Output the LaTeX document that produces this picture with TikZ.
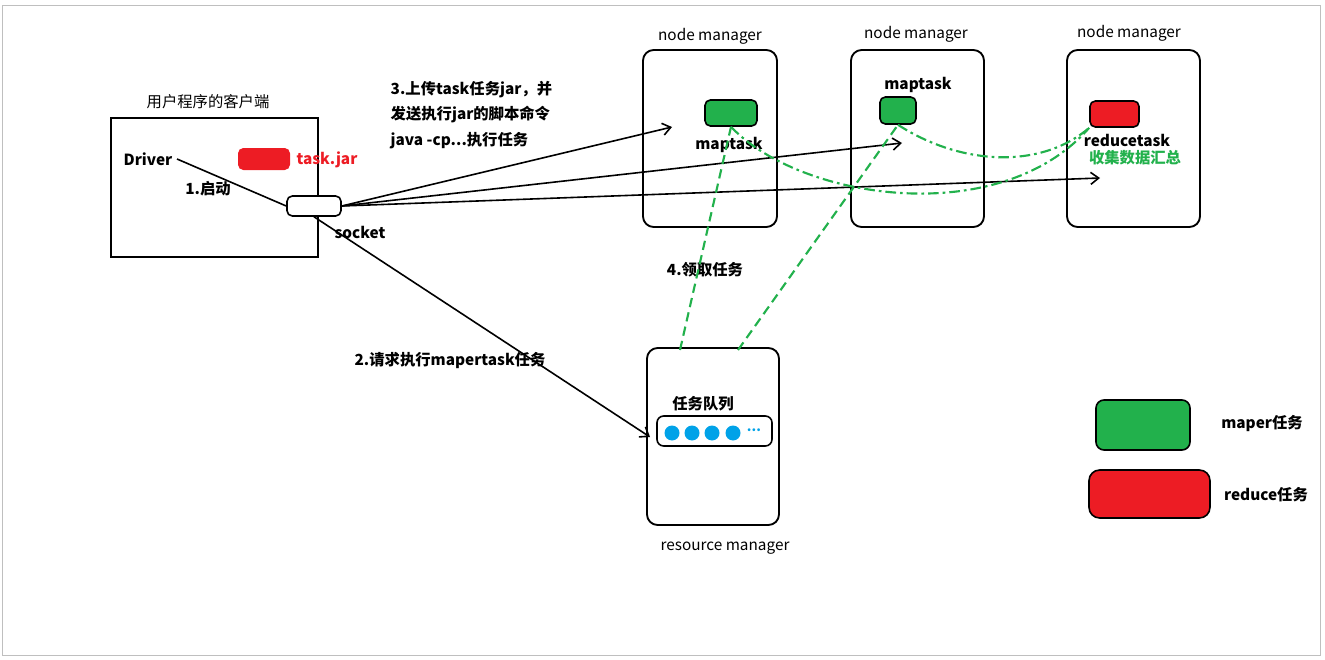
\documentclass[tikz,border=0pt]{standalone}
\usepackage{fontspec}
\setmainfont{Noto Sans CJK SC}
\usetikzlibrary{arrows.meta}
\definecolor{gr}{RGB}{34,177,76}
\definecolor{rd}{RGB}{237,28,36}
\definecolor{bl}{RGB}{0,162,232}
\newdimen\px \px=0.75pt
\begin{document}
\begin{tikzpicture}[x=0.75pt,y=-0.75pt,
 box/.style={draw,line width=1.4pt,rounded corners=8pt},
 lab/.style={font=\fontsize{11.5}{13}\selectfont},
 blab/.style={font=\fontsize{11.5}{13}\selectfont\bfseries},
 arr/.style={line width=1.2pt,-{Straight Barb[length=6pt,width=9pt]}},
 gd/.style={gr,line width=1.6pt,dash pattern=on 7pt off 4pt},
 gdd/.style={gr,line width=1.6pt,dash pattern=on 8pt off 3pt on 2pt off 3pt}]
\useasboundingbox (0,0) rectangle (1325,660);
\draw[gray!50] (2,5) rectangle (1320,655);
% client
\node[draw,line width=1.4pt,minimum width=207\px,minimum height=139\px,inner sep=0] (cl) at (214.5,187.5) {};
\node[lab] (clt) at (208,102) {用户程序的客户端};
\node[blab] (drv) at (148,159) {Driver};
\node[fill=rd,rounded corners=4pt,minimum width=52\px,minimum height=22\px,inner sep=0] (tj) at (264,159) {};
\node[blab,text=rd] (tjt) at (327,160) {task.jar};
\node[blab] (s1) at (208,189) {1.启动};
\node[draw,line width=1.2pt,fill=white,rounded corners=4pt,minimum width=54\px,minimum height=20\px,inner sep=0] (sk) at (314,206) {};
\node[blab] (skt) at (360,232) {socket};
% node managers
\node[box,minimum width=134\px,minimum height=177\px] (n1) at (710,138.5) {};
\node[box,minimum width=133\px,minimum height=177\px] (n2) at (917.5,138.5) {};
\node[box,minimum width=133\px,minimum height=177\px] (n3) at (1133.5,138.5) {};
\node[lab] (n1t) at (710,36) {node manager};
\node[lab] (n2t) at (916,34) {node manager};
\node[lab] (n3t) at (1129,33) {node manager};
\node[draw,line width=1.2pt,fill=gr,rounded corners=4pt,minimum width=52\px,minimum height=26\px,inner sep=0] (m1) at (731,113) {};
\node[blab] (m1t) at (729,145) {maptask};
\node[draw,line width=1.2pt,fill=gr,rounded corners=4pt,minimum width=36\px,minimum height=27\px,inner sep=0] (m2) at (898,110.5) {};
\node[blab] (m2t) at (918,85) {maptask};
\node[draw,line width=1.2pt,fill=rd,rounded corners=4pt,minimum width=49\px,minimum height=26\px,inner sep=0] (r3) at (1114.5,114) {};
\node[blab] (r3t) at (1127,140) {reducetask};
\node[blab,text=gr] (r3c) at (1135,158) {收集数据汇总};
% resource manager
\node[box,minimum width=132\px,minimum height=177\px] (rm) at (713,436.5) {};
\node[lab] (rmt) at (725,548) {resource manager};
\node[blab] (q) at (703,404) {任务队列};
\node[draw,line width=1.2pt,rounded corners=5pt,minimum width=115\px,minimum height=30\px,inner sep=0] (qb) at (714.5,431) {};
\foreach \x/\n in {672/a,692/b,712/c,733/d}
  \node[fill=bl,circle,minimum size=15\px,inner sep=0] (d\n) at (\x,433) {};
\node[text=bl,font=\bfseries] (dots) at (754,430) {...};
% labels
\node[blab,align=left,anchor=west] (l3) at (386,115) {3.上传task任务jar，并\\[6pt]发送执行jar的脚本命令\\[6pt]java -cp...执行任务};
\node[blab] (l2) at (450,360) {2.请求执行mapertask任务};
\node[blab] (l4) at (705,270) {4.领取任务};
% connectors
\coordinate (a1) at (672,127);
\coordinate (a2) at (902,143);
\coordinate (a3) at (1100,178);
\coordinate (a4) at (650,437);
\draw[line width=1.2pt] (drv.east) -- (sk.west);
\draw[arr] (sk.south) -- (a4);
\draw[arr] (sk.east) -- (a1);
\draw[arr] (sk.east) -- (a2);
\draw[arr] (sk.east) -- (a3);
\coordinate (g1) at (680,350);
\coordinate (g2) at (738,350);
\draw[gd] (g1) -- (m1.south);
\draw[gd] (g2) -- (m2.south);
\draw[gdd] (m2.south) .. controls (960,165) and (1040,170) .. (r3.south west);
\draw[gdd] (m1.south) .. controls (800,200) and (1000,230) .. (r3.south west);
% legend
\node[draw,line width=1.2pt,fill=gr,rounded corners=6pt,minimum width=94\px,minimum height=50\px,inner sep=0] (lg) at (1143,425) {};
\node[blab] (lgt) at (1262,424) {maper任务};
\node[draw,line width=1.2pt,fill=rd,rounded corners=8pt,minimum width=121\px,minimum height=48\px,inner sep=0] (lr) at (1149.5,494) {};
\node[blab] (lrt) at (1266,495) {reduce任务};
\end{tikzpicture}
\end{document}
